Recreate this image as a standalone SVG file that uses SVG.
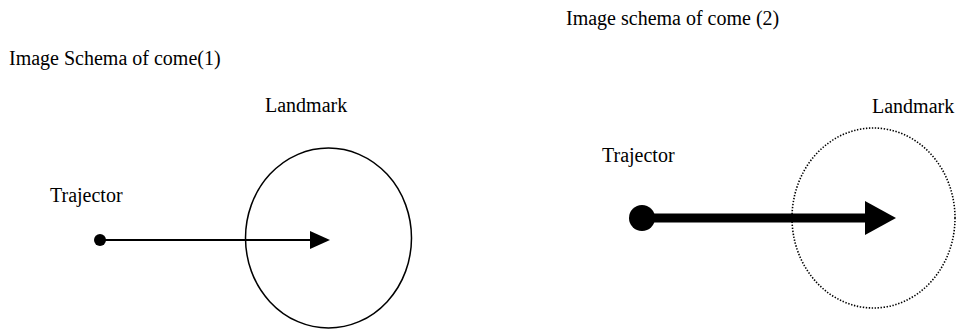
<svg xmlns="http://www.w3.org/2000/svg" width="959" height="329" viewBox="0 0 959 329">
<style>
text{font-family:"Liberation Serif","Times New Roman",serif;font-size:20px;fill:#000}
.lm{fill:none;stroke:#000}
</style>
<defs>
<marker id="ahS" markerUnits="userSpaceOnUse" markerWidth="22" markerHeight="20" refX="0" refY="9" orient="auto"><path d="M0,0 L20,9 L0,18 Z" fill="#000"/></marker>
<marker id="ahL" markerUnits="userSpaceOnUse" markerWidth="32" markerHeight="36" refX="0" refY="17" orient="auto"><path d="M0,0 L31,17 L0,34 Z" fill="#000"/></marker>
</defs>
<rect width="959" height="329" fill="#fff"/>
<text x="9" y="65">Image Schema of come(1)</text>
<text x="566" y="25">Image schema of come (2)</text>
<g id="landmark1">
<ellipse class="lm" cx="328.5" cy="238" rx="83" ry="90" stroke-width="1.5"/>
<text x="265" y="112">Landmark</text>
</g>
<g id="trajector1">
<circle cx="100" cy="240" r="6" fill="#000"/>
<text x="50" y="202">Trajector</text>
</g>
<g id="landmark2">
<ellipse class="lm" cx="873.5" cy="218" rx="81.5" ry="90" stroke-width="1.6" stroke-dasharray="1.4 1.6"/>
<text x="872" y="113">Landmark</text>
</g>
<g id="trajector2">
<circle cx="642" cy="218" r="13" fill="#000"/>
<text x="602" y="162">Trajector</text>
</g>
<g id="connectors">
<line x1="100" y1="240" x2="310" y2="240" stroke="#000" stroke-width="2" marker-end="url(#ahS)"/>
<line x1="642" y1="218" x2="865" y2="218" stroke="#000" stroke-width="9" marker-end="url(#ahL)"/>
</g>
</svg>
